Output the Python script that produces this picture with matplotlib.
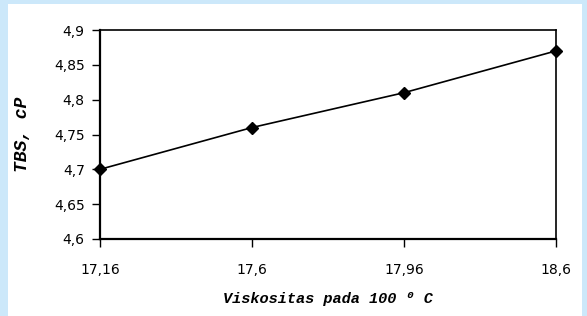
import matplotlib
matplotlib.use("Agg")
import matplotlib.pyplot as plt
from matplotlib.patches import Rectangle

categories = ["17,16", "17,6", "17,96", "18,6"]
tbs_values = [4.70, 4.76, 4.81, 4.87]
y_ticks = [4.6, 4.65, 4.7, 4.75, 4.8, 4.85, 4.9]
y_tick_labels = ["4,6", "4,65", "4,7", "4,75", "4,8", "4,85", "4,9"]

W, H = 587, 316
fig = plt.figure(figsize=(W / 100, H / 100), dpi=100)
fig.patch.set_facecolor("#CCE8FA")
fig.patches.append(Rectangle((8 / W, 0), (582 - 8) / W, (H - 4) / H,
                             transform=fig.transFigure, facecolor="white",
                             edgecolor="none", zorder=-5))

ax = fig.add_axes([100 / W, (H - 239) / H, 456 / W, 209 / H])
ax.set_zorder(2)
ax.set_facecolor("white")
x = list(range(len(categories)))
ax.plot(x, tbs_values, color="black", lw=1.2, marker="D", markersize=6.5,
        markerfacecolor="black", markeredgecolor="black", clip_on=False, zorder=3)
ax.set_xlim(0, len(categories) - 1)
ax.set_ylim(4.6, 4.9)
ax.set_xticks(x)
ax.set_xticklabels(categories)
ax.set_yticks(y_ticks)
ax.set_yticklabels(y_tick_labels)
for s in ax.spines.values():
    s.set_linewidth(1.2)
    s.set_color("black")
ax.spines["left"].set_linewidth(1.6)
ax.spines["bottom"].set_linewidth(1.6)
ax.tick_params(direction="out", length=6, width=1, labelsize=10, colors="black")
ax.tick_params(axis="x", pad=11)
ax.tick_params(axis="y", pad=5)
for lab in ax.get_xticklabels() + ax.get_yticklabels():
    lab.set_family("DejaVu Sans")

label_fonts = ["Liberation Mono", "DejaVu Sans Mono", "DejaVu Sans"]
ax.set_xlabel("Viskositas pada 100 \u2070 C", fontsize=11, fontweight="bold",
              fontstyle="italic", family=label_fonts)
ax.xaxis.set_label_coords(0.5, -(299 - 239) / 209, transform=ax.transAxes)
ax.xaxis.label.set_va("center")
ax.set_ylabel("TBS, cP", fontsize=13, fontweight="bold", fontstyle="italic",
              family=label_fonts)
ax.yaxis.set_label_coords(-(100 - 23) / 456, 0.5, transform=ax.transAxes)
ax.yaxis.label.set_va("center")

fig.savefig("out.png", dpi=100, facecolor=fig.get_facecolor())
